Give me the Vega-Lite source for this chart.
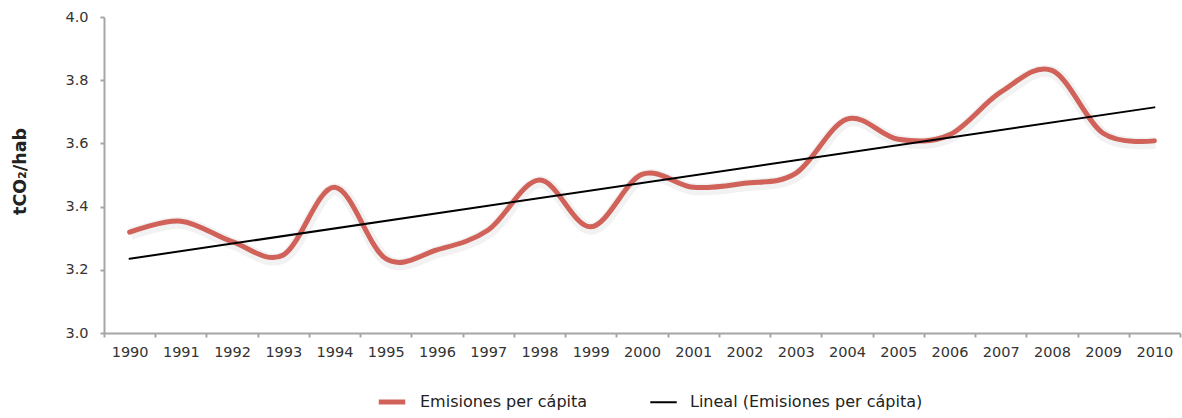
{
  "$schema": "https://vega.github.io/schema/vega-lite/v6.json",
  "autosize": {"type": "none"},
  "width": 1076,
  "height": 316,
  "padding": {"left": 104, "top": 17, "right": 2, "bottom": 85},
  "background": "white",
  "config": {
    "view": {"stroke": null},
    "font": "DejaVu Sans"
  },
  "data": {
    "values": [
      {"year": "1990", "series": "Emisiones per cápita", "value": 3.319},
      {"year": "1991", "series": "Emisiones per cápita", "value": 3.354},
      {"year": "1992", "series": "Emisiones per cápita", "value": 3.289},
      {"year": "1993", "series": "Emisiones per cápita", "value": 3.247},
      {"year": "1994", "series": "Emisiones per cápita", "value": 3.461},
      {"year": "1995", "series": "Emisiones per cápita", "value": 3.235},
      {"year": "1996", "series": "Emisiones per cápita", "value": 3.263},
      {"year": "1997", "series": "Emisiones per cápita", "value": 3.326},
      {"year": "1998", "series": "Emisiones per cápita", "value": 3.484},
      {"year": "1999", "series": "Emisiones per cápita", "value": 3.336},
      {"year": "2000", "series": "Emisiones per cápita", "value": 3.502},
      {"year": "2001", "series": "Emisiones per cápita", "value": 3.461},
      {"year": "2002", "series": "Emisiones per cápita", "value": 3.474},
      {"year": "2003", "series": "Emisiones per cápita", "value": 3.505},
      {"year": "2004", "series": "Emisiones per cápita", "value": 3.677},
      {"year": "2005", "series": "Emisiones per cápita", "value": 3.613},
      {"year": "2006", "series": "Emisiones per cápita", "value": 3.627},
      {"year": "2007", "series": "Emisiones per cápita", "value": 3.762},
      {"year": "2008", "series": "Emisiones per cápita", "value": 3.831},
      {"year": "2009", "series": "Emisiones per cápita", "value": 3.632},
      {"year": "2010", "series": "Emisiones per cápita", "value": 3.608},
      {"year": "1990", "series": "Lineal (Emisiones per cápita)", "value": 3.235},
      {"year": "2010", "series": "Lineal (Emisiones per cápita)", "value": 3.714}
    ]
  },
  "encoding": {
    "x": {
      "field": "year",
      "type": "ordinal",
      "bandPosition": 0.5,
      "scale": {"type": "band", "paddingInner": 0, "paddingOuter": 0,
        "domain": ["1990","1991","1992","1993","1994","1995","1996","1997","1998","1999","2000","2001","2002","2003","2004","2005","2006","2007","2008","2009","2010"]},
      "axis": {
        "title": null,
        "labelAngle": 0,
        "tickBand": "extent",
        "domainColor": "#A6A6A6",
        "domainWidth": 2,
        "tickColor": "#A6A6A6",
        "tickWidth": 2,
        "tickSize": 4,
        "labelFontSize": 14.5,
        "labelColor": "#333333",
        "labelPadding": 8,
        "grid": false
      }
    },
    "y": {
      "field": "value",
      "type": "quantitative",
      "scale": {"domain": [3.0, 4.0], "nice": false, "zero": false},
      "axis": {
        "title": "tCO₂/hab",
        "titleFontSize": 17.5,
        "titleFontWeight": "bold",
        "titleColor": "#222222",
        "titleAngle": -90,
        "titleX": -84,
        "titleY": 154,
        "titleAlign": "center",
        "titleBaseline": "middle",
        "values": [3.0, 3.2, 3.4, 3.6, 3.8, 4.0],
        "format": ".1f",
        "grid": false,
        "domainColor": "#A6A6A6",
        "domainWidth": 2,
        "tickColor": "#A6A6A6",
        "tickWidth": 2,
        "tickSize": 4,
        "labelFontSize": 14.5,
        "labelColor": "#333333",
        "labelPadding": 12
      }
    }
  },
  "layer": [
    {
      "transform": [{"filter": "datum.series === 'Emisiones per cápita'"}],
      "mark": {"type": "line", "interpolate": "cardinal", "color": "#000000", "opacity": 0.05, "strokeWidth": 12, "yOffset": 2, "xOffset": 1},
      "encoding": {}
    },
    {
      "mark": {"type": "line", "interpolate": "cardinal", "strokeCap": "round"},
      "encoding": {
        "color": {
          "field": "series",
          "type": "nominal",
          "scale": {"domain": ["Emisiones per cápita", "Lineal (Emisiones per cápita)"], "range": ["#D0625A", "#000000"]},
          "legend": {
            "title": null,
            "orient": "none",
            "direction": "horizontal",
            "legendX": 272,
            "legendY": 369,
            "symbolType": "stroke",
            "symbolSize": 700,
            "labelFontSize": 16,
            "labelColor": "#222222",
            "labelOffset": 12,
            "columnPadding": 58,
            "labelLimit": 400
          }
        },
        "strokeWidth": {
          "field": "series",
          "type": "nominal",
          "scale": {"domain": ["Emisiones per cápita", "Lineal (Emisiones per cápita)"], "range": [5, 2]},
          "legend": {
            "title": null,
            "orient": "none",
            "direction": "horizontal",
            "legendX": 272,
            "legendY": 369,
            "symbolType": "stroke",
            "symbolSize": 700,
            "labelFontSize": 16,
            "labelColor": "#222222",
            "labelOffset": 12,
            "columnPadding": 58,
            "labelLimit": 400
          }
        },
        "order": {"field": "series", "sort": "ascending"}
      }
    }
  ]
}
